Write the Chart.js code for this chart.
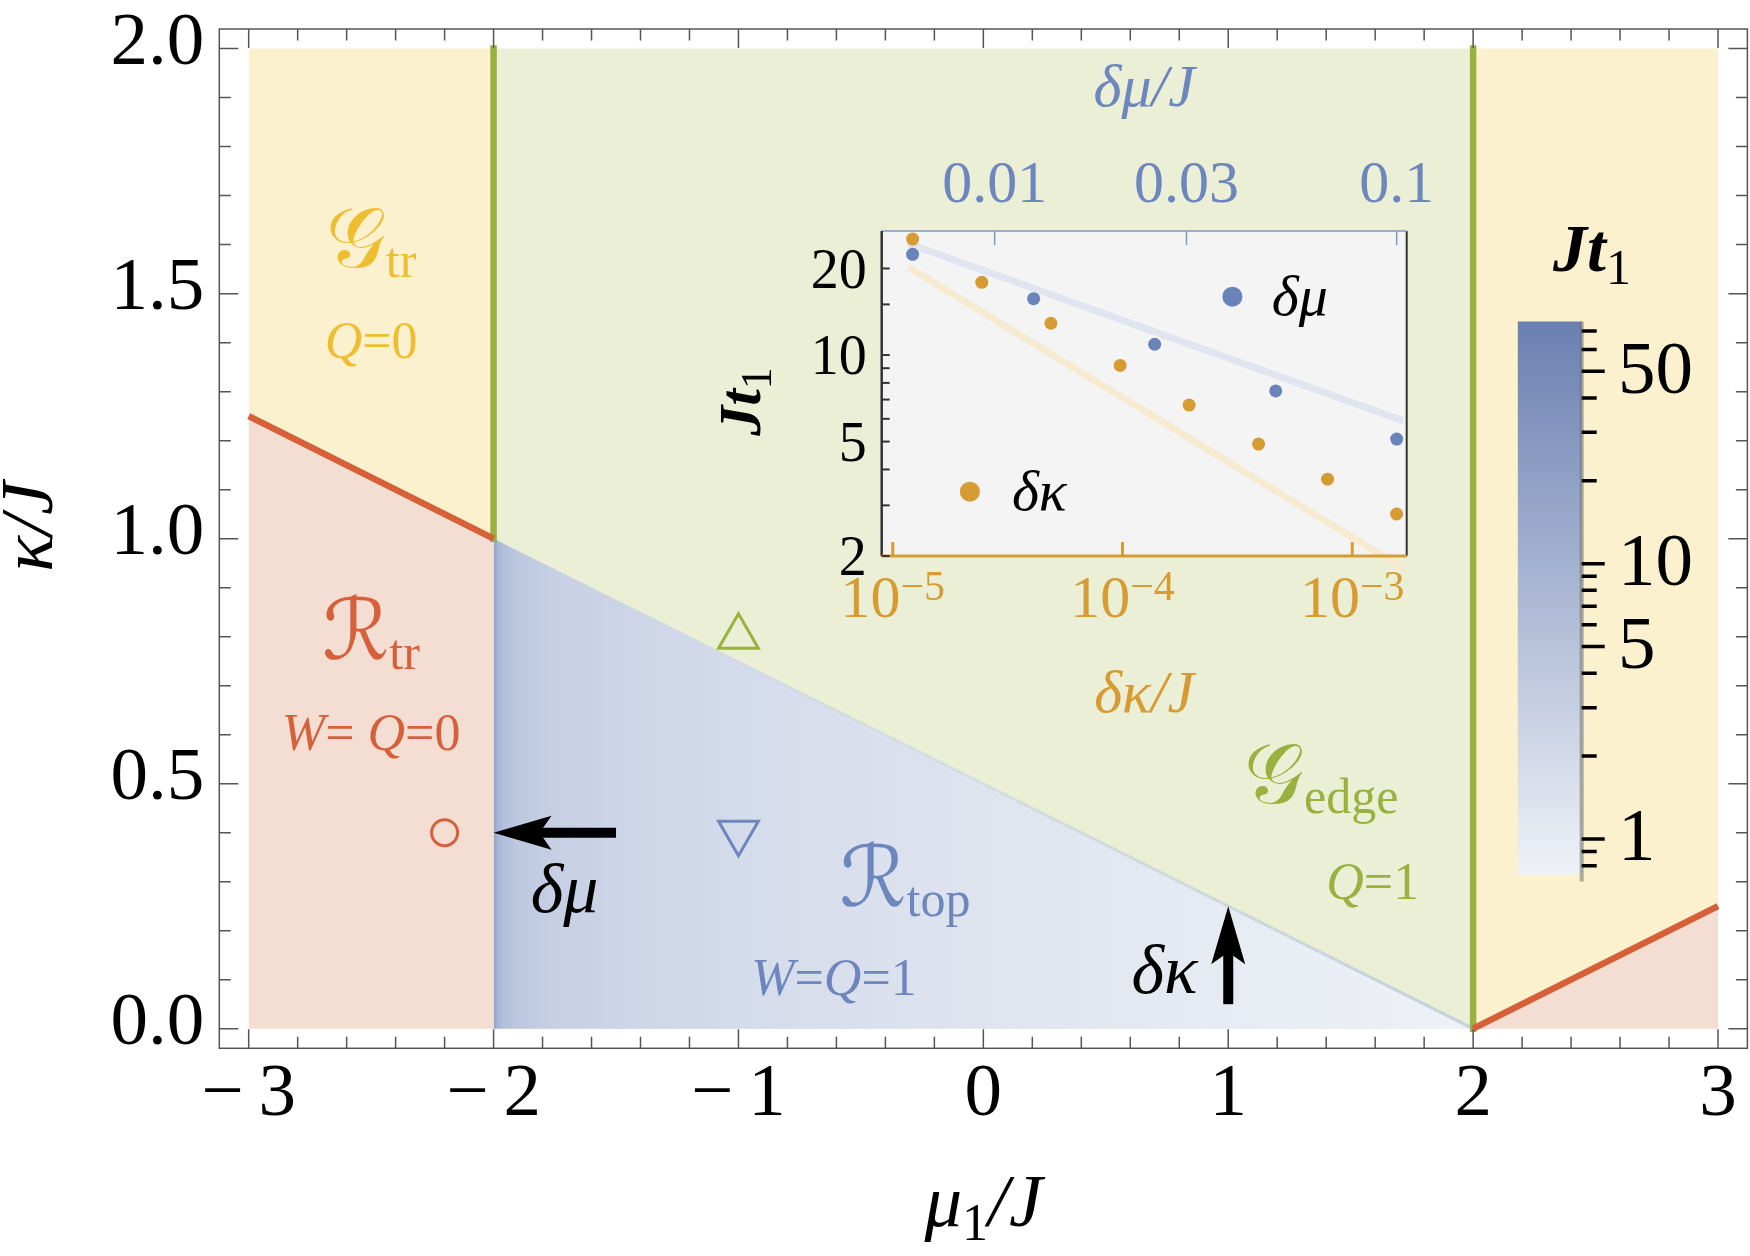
<!DOCTYPE html>
<html>
<head>
<meta charset="utf-8">
<script src="https://cdn.jsdelivr.net/npm/chart.js@4.4.0/dist/chart.umd.min.js"></script>
<style>
  html, body { margin: 0; padding: 0; background: #fff; }
  #wrap { position: relative; width: 1750px; height: 1256px; }
  canvas { position: absolute; }
  #main { left: 0; top: 0; }
  #inset { left: 680px; top: 40px; }
  #cbar { left: 1480px; top: 200px; }
</style>
</head>
<body>
<div id="wrap">
  <canvas id="main" width="1750" height="1256"></canvas>
  <canvas id="inset" width="780" height="700"></canvas>
  <canvas id="cbar" width="270" height="720"></canvas>
</div>
<script>
// ---------- main phase diagram ----------
const xTicks = [-3, -2, -1, 0, 1, 2, 3];
const yTicks = [0.0, 0.5, 1.0, 1.5, 2.0];
const kappaTop = 2.0;

const leftLineMu = [-3, -2];   const leftLineKappa = [1.25, 1.0];
const rightLineMu = [2, 3];    const rightLineKappa = [0.0, 0.25];
const topoEdgeMu = [-2, 2];    const topoEdgeKappa = [1.0, 0.0];
const wallMu = [-2, 2];        const wallKappaLow = [1.0, 0.0];

const circleMu = [-2.2]; const circleKappa = [0.4];
const upMu = [-1];       const upKappa = [0.8];
const downMu = [-1];     const downKappa = [0.4];

const arrowTailMu = [-1.5, 1.0]; const arrowTailKappa = [0.4, 0.05];
const arrowTipMu = [-2.0, 1.0];  const arrowTipKappa = [0.4, 0.25];

const labelMu =    [-2.5, -2.5, -2.5, -2.5, -0.32, -0.61, 1.38, 1.59, -1.71, 0.74];
const labelKappa = [1.58, 1.405, 0.78, 0.605, 0.277, 0.105, 0.487, 0.302, 0.287, 0.122];

// ---------- inset ----------
const dkValues = [1.22e-5, 2.44e-5, 4.88e-5, 9.77e-5, 1.95e-4, 3.91e-4, 7.81e-4, 1.56e-3];
const dkJt =     [25.3, 17.9, 12.9, 9.2, 6.7, 4.9, 3.7, 2.8];
const dmValues = [0.00625, 0.0125, 0.025, 0.05, 0.1];
const dmJt =     [22.4, 15.7, 10.9, 7.5, 5.1];
const dkFitX = [1.17e-5, 1.69e-3]; const dkFitY = [20.2, 1.8];
const dmFitX = [0.0061, 0.104];    const dmFitY = [24.4, 5.9];
const dkRange = [8.95e-6, 1.726e-3];
const dmRange = [5.236e-3, 0.1059];
const jtRange = [2, 27.0];
const insetYTicks = [2, 5, 10, 20];
const insetYMinor = [3, 4, 6, 7, 8, 9, 15];
const dkTicks = [1e-5, 1e-4, 1e-3]; const dkTickExp = ['\u22125', '\u22124', '\u22123'];
const dmTicks = [0.01, 0.03, 0.1];  const dmTickLabels = ['0.01', '0.03', '0.1'];

// ---------- colour bar ----------
const cbarRange = [0.744, 75.9];
const cbarMajor = [1, 5, 10, 50];
const cbarMinor = [0.8, 0.9, 2, 3, 4, 6, 7, 8, 9, 20, 30, 40, 60, 70];

const SERIF = '"Liberation Serif", "DejaVu Serif", serif';
const SCRIPT = '"DejaVu Serif", "DejaVu Sans", "Liberation Serif", serif';
const font = (size, style) => (style || 'normal') + ' ' + size + 'px ' + SERIF;
const clear = 'rgba(0,0,0,0)';
const col = {
  yellow: '#fbf1cf', green: '#ebefd6', pink: '#f4ded4',
  red: '#d5603a', lime: '#9bb13f', gold: '#efbe30', blue: '#6d86bd',
  orange: '#d69b33', bluePt: '#6a83b9'
};
const heatStops = [[-2.0, '#8d9fca'], [-1.985, '#a5b4d6'], [-1.96, '#b3c0dc'], [-1.9, '#bdc8e0'],
  [-1.75, '#c6cfe4'], [-1.5, '#ccd4e7'], [-1.0, '#d4dbea'], [0.0, '#dfe4ef'], [1.0, '#e7ebf3'], [2.0, '#eef1f6']];

const pts = (xs, ys) => xs.map((x, i) => ({ x: x, y: ys[i] }));
const flat = (xs, v) => xs.map(x => ({ x: x, y: v }));

function areaSet(data, color, order) {
  return { data: data, showLine: true, fill: { value: 0 }, backgroundColor: color,
    borderColor: clear, borderWidth: 0, pointRadius: 0, order: order };
}
function lineSet(data, color, width, order, cap) {
  return { data: data, showLine: true, fill: false, borderColor: color, borderWidth: width,
    borderCapStyle: cap || 'butt', pointRadius: 0, order: order };
}

function heatGradient(context) {
  const chart = context.chart;
  if (!chart.chartArea) return '#d4dbea';
  const xs = chart.scales.x;
  const x0 = xs.getPixelForValue(topoEdgeMu[0]), x1 = xs.getPixelForValue(topoEdgeMu[1]);
  const g = chart.ctx.createLinearGradient(x0, 0, x1, 0);
  heatStops.forEach(s => g.addColorStop((s[0] - topoEdgeMu[0]) / (topoEdgeMu[1] - topoEdgeMu[0]), s[1]));
  return g;
}
function fringeGradient(context) {
  const chart = context.chart;
  if (!chart.chartArea) return clear;
  const xs = chart.scales.x;
  const g = chart.ctx.createLinearGradient(xs.getPixelForValue(-2), 0, xs.getPixelForValue(2), 0);
  g.addColorStop(0, 'rgba(150,168,210,0.0)');
  g.addColorStop(0.5, 'rgba(150,168,210,0.2)');
  g.addColorStop(1, 'rgba(150,168,210,0.45)');
  return g;
}

function richText(ctx, parts, cx, base, color) {
  let total = 0;
  const widths = parts.map(p => { ctx.font = p[1]; const w = ctx.measureText(p[0]).width; total += w; return w; });
  let x = cx - total / 2;
  ctx.fillStyle = color; ctx.textAlign = 'left'; ctx.textBaseline = 'alphabetic';
  parts.forEach((p, i) => { ctx.font = p[1]; ctx.fillText(p[0], x, base + (p[2] || 0)); x += widths[i]; });
}

// drop = distance from anchor to text baseline
const labelSpecs = [
  { color: col.gold, drop: 13, parts: [['\u{1D4A2}', '84px ' + SCRIPT], ['tr', font(50), 10]] },
  { color: col.gold, drop: 18, parts: [['Q', font(52, 'italic')], ['=0', font(52)]] },
  { color: col.red, drop: 13, parts: [['\u211B', '84px ' + SCRIPT], ['tr', font(50), 10]] },
  { color: col.red, drop: 18, parts: [['W', font(52, 'italic')], ['= ', font(52)], ['Q', font(52, 'italic')], ['=0', font(52)]] },
  { color: col.blue, drop: 13, parts: [['\u211B', '84px ' + SCRIPT], ['top', font(50), 10]] },
  { color: col.blue, drop: 18, parts: [['W', font(52, 'italic')], ['=', font(52)], ['Q', font(52, 'italic')], ['=1', font(52)]] },
  { color: col.lime, drop: 13, parts: [['\u{1D4A2}', '84px ' + SCRIPT], ['edge', font(50), 10]] },
  { color: col.lime, drop: 18, parts: [['Q', font(52, 'italic')], ['=1', font(52)]] },
  { color: '#000', drop: 24, parts: [['\u03B4\u03BC', font(70, 'italic')]] },
  { color: '#000', drop: 24, parts: [['\u03B4\u03BA', font(70, 'italic')]] }
];

const xMinor = []; for (let k = -15; k <= 15; k++) if (k % 5) xMinor.push(k / 5);
const yMinor = []; for (let k = 0; k <= 20; k++) if (k % 5) yMinor.push(k / 10);

function drawArrow(ctx, x0, y0, x1, y1) {
  const L = 58, W = 17, notch = 12, shaft = 10;
  const len = Math.hypot(x1 - x0, y1 - y0);
  const ux = (x1 - x0) / len, uy = (y1 - y0) / len, nx = -uy, ny = ux;
  ctx.beginPath();
  ctx.lineWidth = shaft; ctx.strokeStyle = '#000';
  ctx.moveTo(x0, y0);
  ctx.lineTo(x1 - ux * (L - notch - 2), y1 - uy * (L - notch - 2));
  ctx.stroke();
  ctx.beginPath();
  ctx.moveTo(x1, y1);
  ctx.lineTo(x1 - ux * L + nx * W, y1 - uy * L + ny * W);
  ctx.lineTo(x1 - ux * (L - notch), y1 - uy * (L - notch));
  ctx.lineTo(x1 - ux * L - nx * W, y1 - uy * L - ny * W);
  ctx.closePath();
  ctx.fillStyle = '#000'; ctx.fill();
}

const mainDeco = {
  id: 'mainDeco',
  afterDatasetsDraw(chart) {
    const { ctx, scales: { x, y } } = chart;
    ctx.save();
    arrowTailMu.forEach((m, i) => {
      drawArrow(ctx, x.getPixelForValue(m), y.getPixelForValue(arrowTailKappa[i]),
        x.getPixelForValue(arrowTipMu[i]), y.getPixelForValue(arrowTipKappa[i]));
    });
    labelSpecs.forEach((s, i) => {
      richText(ctx, s.parts, x.getPixelForValue(labelMu[i]), y.getPixelForValue(labelKappa[i]) + s.drop, s.color);
    });
    ctx.restore();
  },
  afterDraw(chart) {
    const { ctx, chartArea: a, scales: { x, y } } = chart;
    ctx.save();
    ctx.strokeStyle = '#555'; ctx.lineWidth = 1.5;
    ctx.strokeRect(a.left, a.top, a.right - a.left, a.bottom - a.top);
    ctx.beginPath();
    const vt = (v, len) => { const p = x.getPixelForValue(v); ctx.moveTo(p, a.bottom); ctx.lineTo(p, a.bottom - len); ctx.moveTo(p, a.top); ctx.lineTo(p, a.top + len); };
    const ht = (v, len) => { const p = y.getPixelForValue(v); ctx.moveTo(a.left, p); ctx.lineTo(a.left + len, p); ctx.moveTo(a.right, p); ctx.lineTo(a.right - len, p); };
    xTicks.forEach(v => vt(v, 19)); xMinor.forEach(v => vt(v, 11.5));
    yTicks.forEach(v => ht(v, 19)); yMinor.forEach(v => ht(v, 11.5));
    ctx.stroke();
    // axis titles
    richText(ctx, [['\u03BC', font(75, 'italic')], ['1', font(52), 14], ['/J', font(75, 'italic')]],
      (a.left + a.right) / 2, 1226, '#000');
    ctx.translate(52, (a.top + a.bottom) / 2 - 12);
    ctx.rotate(-Math.PI / 2);
    richText(ctx, [['\u03BA/J', font(75, 'italic')]], 0, 0, '#000');
    ctx.restore();
  }
};

new Chart(document.getElementById('main'), {
  type: 'scatter',
  data: {
    datasets: [
      areaSet(flat(leftLineMu, kappaTop), col.yellow, 20),
      areaSet(flat(rightLineMu, kappaTop), col.yellow, 20),
      areaSet(flat(topoEdgeMu, kappaTop), col.green, 19),
      areaSet(pts(leftLineMu, leftLineKappa), col.pink, 18),
      areaSet(pts(rightLineMu, rightLineKappa), col.pink, 18),
      areaSet(pts(topoEdgeMu, topoEdgeKappa), heatGradient, 17),
      lineSet(pts(topoEdgeMu, topoEdgeKappa), fringeGradient, 3, 16),
      lineSet(pts([wallMu[0], wallMu[0]], [wallKappaLow[0], kappaTop]), col.lime, 6.5, 10, 'square'),
      lineSet(pts([wallMu[1], wallMu[1]], [wallKappaLow[1], kappaTop]), col.lime, 6.5, 10, 'square'),
      lineSet(pts(leftLineMu, leftLineKappa), col.red, 6.5, 9),
      lineSet(pts(rightLineMu, rightLineKappa), col.red, 6.5, 9),
      { data: pts(circleMu, circleKappa), pointStyle: 'circle', pointRadius: 13, pointBorderWidth: 3,
        pointBorderColor: col.red, pointBackgroundColor: clear, order: 1 },
      { data: pts(upMu, upKappa), pointStyle: 'triangle', pointRadius: 23, pointBorderWidth: 3,
        pointBorderColor: col.lime, pointBackgroundColor: clear, order: 1 },
      { data: pts(downMu, downKappa), pointStyle: 'triangle', pointRotation: 180, pointRadius: 23, pointBorderWidth: 3,
        pointBorderColor: col.blue, pointBackgroundColor: clear, order: 1 }
    ]
  },
  options: {
    responsive: false, devicePixelRatio: 1, animation: false,
    layout: { autoPadding: false, padding: { top: 29, right: 2.6, left: 0, bottom: 0 } },
    plugins: { legend: { display: false }, tooltip: { enabled: false } },
    scales: {
      x: {
        type: 'linear', min: -3.12, max: 3.12,
        grid: { display: false, drawTicks: false }, border: { display: false },
        afterBuildTicks: s => { s.ticks = xTicks.map(v => ({ value: v })); },
        afterFit: s => { s.height = 207.7; s.paddingLeft = 0; s.paddingRight = 0; },
        ticks: {
          autoSkip: false, maxRotation: 0, padding: 2, color: '#000',
          font: { family: SERIF, size: 75, lineHeight: 1.2 },
          callback: v => v < 0 ? '\u2212\u2009' + Math.abs(v) : String(v)
        }
      },
      y: {
        type: 'linear', min: -0.04, max: 2.04,
        grid: { display: false, drawTicks: false }, border: { display: false },
        afterBuildTicks: s => { s.ticks = yTicks.map(v => ({ value: v })); },
        afterFit: s => { s.width = 219.3; s.paddingTop = 0; s.paddingBottom = 0; },
        ticks: {
          autoSkip: false, padding: 15, labelOffset: -4, color: '#000',
          font: { family: SERIF, size: 75, lineHeight: 1.2 },
          callback: v => Number(v).toFixed(1)
        }
      }
    }
  },
  plugins: [mainDeco]
});

// ---------- inset chart ----------
const insetDeco = {
  id: 'insetDeco',
  beforeDatasetsDraw(chart) {
    const { ctx, chartArea: a } = chart;
    ctx.save(); ctx.fillStyle = '#f4f4f4';
    ctx.fillRect(a.left, a.top, a.right - a.left, a.bottom - a.top);
    ctx.restore();
  },
  afterDatasetsDraw(chart) {
    const { ctx, chartArea: a, scales: { xk, xm, y } } = chart;
    const W = a.right - a.left, H = a.bottom - a.top;
    ctx.save();
    // frame
    const seg = (c, w, x0, y0, x1, y1) => { ctx.beginPath(); ctx.strokeStyle = c; ctx.lineWidth = w; ctx.moveTo(x0, y0); ctx.lineTo(x1, y1); ctx.stroke(); };
    seg('#333', 2, a.right, a.top, a.right, a.bottom);
    seg('#8299c8', 1.5, a.left, a.top, a.right, a.top);
    seg('#333', 2.5, a.left, a.top, a.left, a.bottom);
    seg(col.orange, 3, a.left, a.bottom, a.right, a.bottom);
    // y ticks and labels
    insetYTicks.concat(insetYMinor).forEach(v => { const p = y.getPixelForValue(v); seg('#333', 2, a.left, p, a.left + 8, p); });
    ctx.fillStyle = '#000'; ctx.textAlign = 'right'; ctx.textBaseline = 'alphabetic'; ctx.font = font(56);
    insetYTicks.forEach(v => ctx.fillText(String(v), a.left - 15, y.getPixelForValue(v) + 0.34 * 56));
    // bottom axis (delta kappa)
    dkTicks.forEach((v, i) => {
      const p = xk.getPixelForValue(v);
      seg(col.orange, 3, p, a.bottom, p, a.bottom - 14);
      richText(ctx, [['10', font(60)], [dkTickExp[i], font(42), -17]], p, a.bottom + 61.3, col.orange);
    });
    richText(ctx, [['\u03B4\u03BA/J', font(60, 'italic')]], (a.left + a.right) / 2, a.bottom + 155.7, col.orange);
    // top axis (delta mu)
    dmTicks.forEach((v, i) => {
      const p = xm.getPixelForValue(v);
      seg('#8299c8', 1.5, p, a.top, p, a.top + 14);
      richText(ctx, [[dmTickLabels[i], font(60)]], p, a.top - 29.3, col.blue);
    });
    richText(ctx, [['\u03B4\u03BC/J', font(60, 'italic')]], (a.left + a.right) / 2, a.top - 125, col.blue);
    // y title
    ctx.save();
    ctx.translate(a.left - 122, (a.top + a.bottom) / 2 + 8);
    ctx.rotate(-Math.PI / 2);
    richText(ctx, [['Jt', font(60, 'bold italic')], ['1', font(44), 11]], 0, 0, '#000');
    ctx.restore();
    // legend
    const dot = (fx, fy, c) => { ctx.beginPath(); ctx.fillStyle = c; ctx.arc(a.left + fx * W, a.top + fy * H, 10, 0, Math.PI * 2); ctx.fill(); };
    dot(0.668, 0.202, col.bluePt);
    dot(0.168, 0.802, col.orange);
    ctx.fillStyle = '#000'; ctx.textAlign = 'left'; ctx.font = font(58, 'italic');
    ctx.fillText('\u03B4\u03BC', a.left + 0.743 * W, a.top + 0.258 * H);
    ctx.fillText('\u03B4\u03BA', a.left + 0.248 * W, a.top + 0.858 * H);
    ctx.restore();
  }
};

new Chart(document.getElementById('inset'), {
  type: 'scatter',
  data: {
    datasets: [
      { data: pts(dkFitX, dkFitY), xAxisID: 'xk', showLine: true, borderColor: '#f6ead0', borderWidth: 7, pointRadius: 0, clip: false, order: 5 },
      { data: pts(dmFitX, dmFitY), xAxisID: 'xm', showLine: true, borderColor: '#e0e5f0', borderWidth: 7, pointRadius: 0, clip: false, order: 5 },
      { data: pts(dkValues, dkJt), xAxisID: 'xk', pointRadius: 6.5, pointBorderWidth: 0, pointBackgroundColor: col.orange, order: 1 },
      { data: pts(dmValues, dmJt), xAxisID: 'xm', pointRadius: 6.5, pointBorderWidth: 0, pointBackgroundColor: col.bluePt, order: 1 }
    ]
  },
  options: {
    responsive: false, devicePixelRatio: 1, animation: false,
    layout: { autoPadding: false, padding: { left: 201.7, top: 191, right: 53.3, bottom: 184 } },
    plugins: { legend: { display: false }, tooltip: { enabled: false } },
    scales: {
      xk: { type: 'logarithmic', axis: 'x', position: 'bottom', min: dkRange[0], max: dkRange[1], display: false },
      xm: { type: 'logarithmic', axis: 'x', position: 'top', min: dmRange[0], max: dmRange[1], display: false },
      y: { type: 'logarithmic', position: 'left', min: jtRange[0], max: jtRange[1], display: false }
    }
  },
  plugins: [insetDeco]
});

// ---------- colour bar ----------
const cbarDeco = {
  id: 'cbarDeco',
  afterDraw(chart) {
    const { ctx, chartArea: a, scales: { y } } = chart;
    ctx.save();
    ctx.strokeStyle = 'rgba(110,110,110,0.55)'; ctx.lineWidth = 4;
    ctx.beginPath(); ctx.moveTo(a.right, a.top); ctx.lineTo(a.right, a.bottom); ctx.stroke();
    ctx.strokeStyle = '#000'; ctx.lineWidth = 3.5;
    ctx.beginPath();
    cbarMajor.forEach(v => { const p = y.getPixelForValue(v); ctx.moveTo(a.right, p); ctx.lineTo(a.right + 23, p); });
    cbarMinor.forEach(v => { const p = y.getPixelForValue(v); ctx.moveTo(a.right, p); ctx.lineTo(a.right + 15, p); });
    ctx.stroke();
    ctx.fillStyle = '#000'; ctx.textAlign = 'left'; ctx.textBaseline = 'alphabetic'; ctx.font = font(75);
    cbarMajor.forEach(v => ctx.fillText(String(v), a.right + 36.3, y.getPixelForValue(v) + 0.34 * 75 - 4));
    richText(ctx, [['Jt', font(68, 'bold italic')], ['1', font(50), 13]], a.left + 74.3, a.top - 50, '#000');
    ctx.restore();
  }
};

new Chart(document.getElementById('cbar'), {
  type: 'bar',
  data: {
    labels: [''],
    datasets: [{
      data: [cbarRange], borderWidth: 0, barPercentage: 1, categoryPercentage: 1,
      backgroundColor: context => {
        const chart = context.chart, a = chart.chartArea;
        if (!a) return '#adb9d5';
        const g = chart.ctx.createLinearGradient(0, a.bottom, 0, a.top);
        g.addColorStop(0, '#f1f3f8'); g.addColorStop(0.5, '#adb9d5'); g.addColorStop(1, '#6a80b2');
        return g;
      }
    }]
  },
  options: {
    responsive: false, devicePixelRatio: 1, animation: false,
    layout: { autoPadding: false, padding: { left: 37.7, top: 121.4, bottom: 38.4, right: 168.3 } },
    plugins: { legend: { display: false }, tooltip: { enabled: false } },
    scales: {
      x: { display: false },
      y: { type: 'logarithmic', min: cbarRange[0], max: cbarRange[1], display: false }
    }
  },
  plugins: [cbarDeco]
});
</script>
</body>
</html>
